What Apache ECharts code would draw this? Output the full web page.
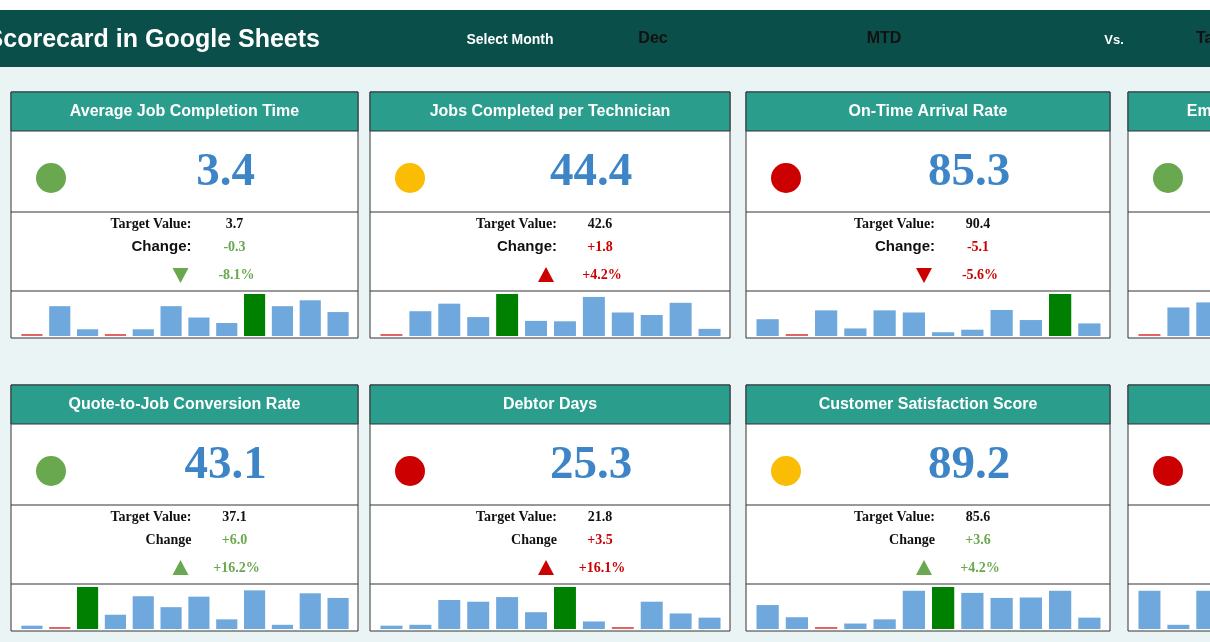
<!DOCTYPE html>
<html><head><meta charset="utf-8">
<script src="https://cdn.jsdelivr.net/npm/echarts@6/dist/echarts.min.js"></script>
<style>html,body{margin:0;padding:0;background:#fff;overflow:hidden}#main{width:1500px;height:642px}</style>
</head><body><div id="main"></div>
<script>
// card content, left to right, top row then bottom row
var titles = ['Average Job Completion Time', 'Jobs Completed per Technician', 'On-Time Arrival Rate', 'Emergency Call Response Time',
  'Quote-to-Job Conversion Rate', 'Debtor Days', 'Customer Satisfaction Score', 'First-Time Fix Rate'];
var actuals = ['3.4', '44.4', '85.3', '38.6', '43.1', '25.3', '89.2', '78.5'];
var targets = ['3.7', '42.6', '90.4', '40.2', '37.1', '21.8', '85.6', '82.0'];
var changes = ['-0.3', '+1.8', '-5.1', '-1.6', '+6.0', '+3.5', '+3.6', '-3.5'];
var pcts = ['-8.1%', '+4.2%', '-5.6%', '-4.0%', '+16.2%', '+16.1%', '+4.2%', '-4.3%'];
var kpiStatus = ['green', 'yellow', 'red', 'green', 'green', 'red', 'yellow', 'red'];
var arrows = ['down', 'up', 'down', 'down', 'up', 'up', 'up', 'down'];
var good = [true, false, false, true, true, false, true, false];
var changeLabels = ['Change:', 'Change:', 'Change:', 'Change:', 'Change', 'Change', 'Change', 'Change'];
// monthly trend bars, Jan..Dec
var trends = [
  [0, 71, 16, 0, 16, 71, 44, 31, 100, 71, 85, 57],
  [0, 59, 77, 45, 100, 36, 35, 93, 56, 50, 79, 17],
  [40, 0, 61, 18, 61, 56, 9, 15, 62, 38, 100, 30],
  [0, 68, 80, 55, 100, 42, 61, 30, 72, 48, 66, 38],
  [8, 0, 100, 34, 78, 52, 77, 23, 92, 10, 85, 74],
  [8, 10, 69, 65, 76, 40, 100, 18, 0, 65, 37, 27],
  [57, 28, 0, 13, 23, 91, 100, 86, 74, 75, 91, 27],
  [91, 10, 91, 52, 100, 33, 64, 0, 47, 70, 25, 58]
];
var months = ['Jan', 'Feb', 'Mar', 'Apr', 'May', 'Jun', 'Jul', 'Aug', 'Sep', 'Oct', 'Nov', 'Dec'];

var COLORS = {green: '#6aa84f', yellow: '#fbbc04', red: '#cc0000'};
var cardX = [11, 370, 746, 1128];
var cardW = [347, 360, 364, 360];
var rowY = [92, 385];
var SANS = 'Liberation Sans, Arial, sans-serif';
var SERIF = 'Liberation Serif, Times New Roman, serif';

var graphics = [
  {type: 'rect', shape: {x: 0, y: 10, width: 1500, height: 57}, style: {fill: '#0b4f4b'}},
  {type: 'rect', shape: {x: 0, y: 67, width: 1500, height: 575}, style: {fill: '#ebf4f5'}},
  {type: 'text', x: 320, y: 40, style: {text: 'Field Service KPI Scorecard in Google Sheets', fill: '#fff', font: 'bold 25px ' + SANS, align: 'right', verticalAlign: 'middle'}},
  {type: 'text', x: 510, y: 40, style: {text: 'Select Month', fill: '#fff', font: 'bold 14px Liberation Sans Narrow, ' + SANS, align: 'center', verticalAlign: 'middle'}},
  {type: 'text', x: 653, y: 39, style: {text: 'Dec', fill: '#111', font: 'bold 16px Liberation Sans Narrow, ' + SANS, align: 'center', verticalAlign: 'middle'}},
  {type: 'text', x: 884, y: 39, style: {text: 'MTD', fill: '#111', font: 'bold 16px Liberation Sans Narrow, ' + SANS, align: 'center', verticalAlign: 'middle'}},
  {type: 'text', x: 1114, y: 40, style: {text: 'Vs.', fill: '#fff', font: 'bold 13px Liberation Sans Narrow, ' + SANS, align: 'center', verticalAlign: 'middle'}},
  {type: 'text', x: 1196, y: 39, style: {text: 'Target', fill: '#111', font: 'bold 16px Liberation Sans Narrow, ' + SANS, align: 'left', verticalAlign: 'middle'}}
];
var grids = [], xAxes = [], yAxes = [], series = [];

titles.forEach(function(title, i){
  var x = cardX[i % 4], w = cardW[i % 4], y = rowY[Math.floor(i / 4)];
  var cx = x + w / 2;
  var col = good[i] ? '#6aa84f' : '#cc0000';
  var h = 246;
  graphics.push(
    {type: 'rect', shape: {x: x, y: y, width: w, height: h}, style: {fill: '#fff', stroke: '#333', lineWidth: 1}},
    {type: 'rect', shape: {x: x, y: y, width: w, height: 39}, style: {fill: '#2a9d8c', stroke: '#333', lineWidth: 1}},
    {type: 'line', shape: {x1: x, y1: y + 120, x2: x + w, y2: y + 120}, style: {stroke: '#333', lineWidth: 1}},
    {type: 'line', shape: {x1: x, y1: y + 199, x2: x + w, y2: y + 199}, style: {stroke: '#333', lineWidth: 1}},
    {type: 'text', x: cx, y: y + 20, style: {text: title, fill: '#fff', font: 'bold 16px ' + SANS, align: 'center', verticalAlign: 'middle'}},
    {type: 'circle', shape: {cx: x + 40, cy: y + 86, r: 15}, style: {fill: COLORS[kpiStatus[i]]}},
    {type: 'text', x: cx + 41, y: y + 81, style: {text: actuals[i], fill: '#3d85c6', font: 'bold 47px ' + SERIF, align: 'center', verticalAlign: 'middle'}},
    {type: 'text', x: cx + 7, y: y + 132, style: {text: 'Target Value:', fill: '#111', font: 'bold 14px ' + SERIF, align: 'right', verticalAlign: 'middle'}},
    {type: 'text', x: cx + 50, y: y + 132, style: {text: targets[i], fill: '#111', font: 'bold 14px ' + SERIF, align: 'center', verticalAlign: 'middle'}},
    {type: 'text', x: cx + 7, y: y + 155, style: {text: changeLabels[i], fill: '#111', font: (i < 4 ? 'bold 15px ' + SANS : 'bold 14px ' + SERIF), align: 'right', verticalAlign: 'middle'}},
    {type: 'text', x: cx + 50, y: y + 155, style: {text: changes[i], fill: col, font: 'bold 14px ' + SERIF, align: 'center', verticalAlign: 'middle'}},
    {type: 'text', x: cx + 52, y: y + 183, style: {text: pcts[i], fill: col, font: 'bold 14px ' + SERIF, align: 'center', verticalAlign: 'middle'}},
    {type: 'polygon', x: cx - 4, y: y + 183,
      shape: {points: arrows[i] === 'up' ? [[-8, 7], [8, 7], [0, -8]] : [[-8, -7], [8, -7], [0, 8]]},
      style: {fill: col}}
  );
  grids.push({left: x + 7, top: y + 202, width: w - 13, height: 42, outerBoundsMode: 'none'});
  xAxes.push({gridIndex: i, type: 'category', data: months, show: false});
  yAxes.push({gridIndex: i, type: 'value', min: 0, max: 100, show: false});
  var mx = Math.max.apply(null, trends[i]);
  series.push({
    type: 'bar', xAxisIndex: i, yAxisIndex: i, data: trends[i], barCategoryGap: '24%', barMinHeight: 2,
    silent: true, animation: false,
    itemStyle: {
      color: function(p){ return p.value === 0 ? '#e06666' : (p.value === mx ? '#008000' : '#6fa8dc'); }
    }
  });
});

var chart = echarts.init(document.getElementById('main'));
chart.setOption({
  animation: false,
  graphic: {elements: graphics.map(function(g){ g.z = -10; return g; })},
  grid: grids, xAxis: xAxes, yAxis: yAxes, series: series
});
</script>
</body></html>
